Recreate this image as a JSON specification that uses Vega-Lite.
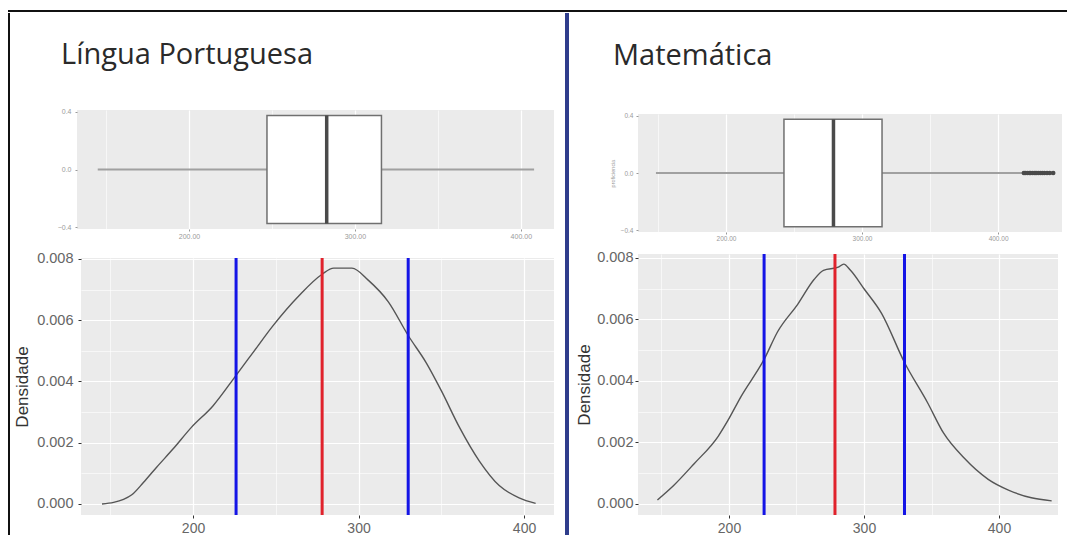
{
  "$schema": "https://vega.github.io/schema/vega-lite/v6.json",
  "padding": {"left": 7, "top": 9, "right": 0, "bottom": 0},
  "background": "white",
  "datasets": {
    "box": [
      {"disc": "LP", "lo": 145, "q1": 247, "med": 283, "q3": 316, "hi": 408},
      {"disc": "MT", "lo": 148.5, "q1": 242.6, "med": 279, "q3": 314.7, "hi": 418}
    ],
    "outliers": [
      {"disc": "MT", "score": 419}, {"disc": "MT", "score": 420}, {"disc": "MT", "score": 421.5},
      {"disc": "MT", "score": 423}, {"disc": "MT", "score": 424}, {"disc": "MT", "score": 425.5},
      {"disc": "MT", "score": 427}, {"disc": "MT", "score": 428}, {"disc": "MT", "score": 429.5},
      {"disc": "MT", "score": 431}, {"disc": "MT", "score": 432.5}, {"disc": "MT", "score": 434},
      {"disc": "MT", "score": 436}, {"disc": "MT", "score": 438}, {"disc": "MT", "score": 440.5}
    ],
    "refs": [
      {"disc": "LP", "score": 226, "kind": "dp"},
      {"disc": "LP", "score": 278, "kind": "media"},
      {"disc": "LP", "score": 330, "kind": "dp"},
      {"disc": "MT", "score": 226, "kind": "dp"},
      {"disc": "MT", "score": 278.5, "kind": "media"},
      {"disc": "MT", "score": 330, "kind": "dp"}
    ],
    "dens": [
      {"disc": "LP", "score": 145, "density": 0.0},
      {"disc": "LP", "score": 152, "density": 0.00005},
      {"disc": "LP", "score": 158, "density": 0.00015},
      {"disc": "LP", "score": 163, "density": 0.0003},
      {"disc": "LP", "score": 170, "density": 0.0007},
      {"disc": "LP", "score": 178, "density": 0.0012},
      {"disc": "LP", "score": 188, "density": 0.0018},
      {"disc": "LP", "score": 199, "density": 0.0025},
      {"disc": "LP", "score": 212, "density": 0.0032},
      {"disc": "LP", "score": 226, "density": 0.0042},
      {"disc": "LP", "score": 237, "density": 0.005},
      {"disc": "LP", "score": 248, "density": 0.0058},
      {"disc": "LP", "score": 264, "density": 0.0068},
      {"disc": "LP", "score": 278, "density": 0.0075},
      {"disc": "LP", "score": 285, "density": 0.0077},
      {"disc": "LP", "score": 296, "density": 0.0077},
      {"disc": "LP", "score": 306, "density": 0.0073},
      {"disc": "LP", "score": 318, "density": 0.0066},
      {"disc": "LP", "score": 330, "density": 0.0055},
      {"disc": "LP", "score": 341, "density": 0.0046},
      {"disc": "LP", "score": 350, "density": 0.0037},
      {"disc": "LP", "score": 361, "density": 0.0025},
      {"disc": "LP", "score": 373, "density": 0.0014},
      {"disc": "LP", "score": 385, "density": 0.0006},
      {"disc": "LP", "score": 397, "density": 0.0002},
      {"disc": "LP", "score": 407, "density": 0.00002},
      {"disc": "MT", "score": 147, "density": 0.00013},
      {"disc": "MT", "score": 159, "density": 0.0006},
      {"disc": "MT", "score": 174, "density": 0.0013},
      {"disc": "MT", "score": 192, "density": 0.0022},
      {"disc": "MT", "score": 199, "density": 0.0027},
      {"disc": "MT", "score": 209, "density": 0.0035},
      {"disc": "MT", "score": 226, "density": 0.0047},
      {"disc": "MT", "score": 236, "density": 0.0056},
      {"disc": "MT", "score": 251, "density": 0.0065},
      {"disc": "MT", "score": 263, "density": 0.0073},
      {"disc": "MT", "score": 270, "density": 0.0076},
      {"disc": "MT", "score": 281, "density": 0.0077},
      {"disc": "MT", "score": 285, "density": 0.0078},
      {"disc": "MT", "score": 290, "density": 0.0076},
      {"disc": "MT", "score": 300, "density": 0.007},
      {"disc": "MT", "score": 313, "density": 0.0062},
      {"disc": "MT", "score": 330, "density": 0.0046},
      {"disc": "MT", "score": 347, "density": 0.0033},
      {"disc": "MT", "score": 359, "density": 0.0023},
      {"disc": "MT", "score": 374, "density": 0.0015},
      {"disc": "MT", "score": 392, "density": 0.0008},
      {"disc": "MT", "score": 407, "density": 0.00045},
      {"disc": "MT", "score": 424, "density": 0.0002},
      {"disc": "MT", "score": 439, "density": 0.0001}
    ]
  },
  "spacing": 0,
  "vconcat": [
    {
      "width": 1060, "height": 2,
      "data": {"values": [{}]},
      "view": {"fill": "#111111", "stroke": null},
      "mark": {"type": "rule", "opacity": 0},
      "encoding": {}
    },
    {
      "spacing": 10,
      "hconcat": [
        {
          "spacing": 3,
          "hconcat": [
            {
              "width": 2, "height": 524,
              "data": {"values": [{}]},
              "view": {"fill": "#111111", "stroke": null},
              "mark": {"type": "rule", "opacity": 0},
              "encoding": {}
            },
            {
              "bounds": "flush",
              "spacing": 29,
              "vconcat": [
                {
                  "width": 477, "height": 68,
                  "data": {"values": [{}]},
                  "view": {"stroke": null},
                  "mark": {"type": "rule", "opacity": 0},
                  "encoding": {}
                },
                {
                  "width": 477, "height": 119,
                  "title": {"text": "Língua Portuguesa", "anchor": "start", "frame": "group", "font": "Open Sans", "fontSize": 29, "fontWeight": "normal", "color": "#2a2a2a", "dx": -16, "offset": 38},
                  "view": {"fill": "#EBEBEB", "stroke": null},
                  "layer": [
                    {
                      "data": {"name": "box"},
                      "transform": [{"filter": "datum.disc == 'LP'"}],
                      "mark": {"type": "rule", "color": "#a0a0a0", "strokeWidth": 2},
                      "encoding": {
                        "x": {"field": "lo", "type": "quantitative", "scale": {"domain": [132.5, 420], "nice": false, "zero": false},
                          "axis": {"title": null, "values": [150, 200, 250, 300, 350, 400], "labelExpr": "datum.value % 100 == 0 ? format(datum.value, '.2f') : ''", "labelFontSize": 7, "labelColor": "#9a9a9a", "tickSize": 2, "tickColor": "#999999", "labelPadding": 1,
                            "gridWidth": {"condition": {"test": "datum.value % 100 == 0", "value": 1.2}, "value": 0.6},
                            "tickOpacity": {"condition": {"test": "datum.value % 100 == 0", "value": 1}, "value": 0}}},
                        "x2": {"field": "hi"},
                        "y": {"datum": 0, "type": "quantitative", "scale": {"domain": [-0.4125, 0.4125], "nice": false, "zero": false},
                          "axis": {"title": null, "values": [-0.4, -0.3, -0.2, -0.1, 0, 0.1, 0.2, 0.3, 0.4], "labelExpr": "abs(round(datum.value*10)) % 2 == 0 ? format(datum.value, '.1f') : ''", "labelFontSize": 7, "labelColor": "#9a9a9a", "tickSize": 2, "tickColor": "#999999", "labelPadding": 4,
                            "gridWidth": {"condition": {"test": "abs(round(datum.value*10)) % 2 == 0", "value": 1.2}, "value": 0.6},
                            "tickOpacity": {"condition": {"test": "abs(round(datum.value*10)) % 2 == 0", "value": 1}, "value": 0}}}
                      }
                    },
                    {
                      "data": {"name": "box"},
                      "transform": [{"filter": "datum.disc == 'LP'"}],
                      "mark": {"type": "rect", "fill": "#FFFFFF", "stroke": "#707070", "strokeWidth": 1.5},
                      "encoding": {
                        "x": {"field": "q1", "type": "quantitative"},
                        "x2": {"field": "q3"},
                        "y": {"datum": -0.375, "type": "quantitative"},
                        "y2": {"datum": 0.375}
                      }
                    },
                    {
                      "data": {"name": "box"},
                      "transform": [{"filter": "datum.disc == 'LP'"}],
                      "mark": {"type": "rule", "color": "#4a4a4a", "strokeWidth": 3.5},
                      "encoding": {
                        "x": {"field": "med", "type": "quantitative"},
                        "y": {"datum": -0.375, "type": "quantitative"},
                        "y2": {"datum": 0.375}
                      }
                    }
                  ]
                },
                {
                  "bounds": "flush",
                  "spacing": 3,
                  "hconcat": [
                    {
                      "width": 1, "height": 257,
                      "data": {"values": [{}]},
                      "view": {"stroke": null},
                      "mark": {"type": "rule", "opacity": 0},
                      "encoding": {}
                    },
                    {
                      "width": 473, "height": 257,
                      "view": {"fill": "#EBEBEB", "stroke": null},
                      "layer": [
                        {
                          "data": {"name": "dens"},
                          "transform": [{"filter": "datum.disc == 'LP'"}],
                          "mark": {"type": "line", "color": "#555555", "strokeWidth": 1.4, "interpolate": "monotone"},
                          "encoding": {
                            "x": {"field": "score", "type": "quantitative", "scale": {"domain": [132.3, 418.1], "nice": false, "zero": false},
                              "axis": {"title": null, "values": [150, 200, 250, 300, 350, 400], "labelExpr": "datum.value % 100 == 0 ? datum.label : ''", "format": "d", "labelFontSize": 14, "labelPadding": 3, "tickSize": 3,
                                "gridWidth": {"condition": {"test": "datum.value % 100 == 0", "value": 1.2}, "value": 0.6},
                                "tickOpacity": {"condition": {"test": "datum.value % 100 == 0", "value": 1}, "value": 0}}},
                            "y": {"field": "density", "type": "quantitative", "scale": {"domain": [-0.00036, 0.00803], "nice": false, "zero": false},
                              "axis": {"title": "Densidade", "values": [0, 0.001, 0.002, 0.003, 0.004, 0.005, 0.006, 0.007, 0.008], "format": ".3f", "labelExpr": "round(datum.value*1000) % 2 == 0 ? datum.label : ''", "labelFontSize": 14.5, "labelPadding": 5, "tickSize": 3, "titleFontSize": 17, "titleColor": "#333333", "titleFontWeight": "normal", "titlePadding": 5,
                                "gridWidth": {"condition": {"test": "round(datum.value*1000) % 2 == 0", "value": 1.2}, "value": 0.6},
                                "tickOpacity": {"condition": {"test": "round(datum.value*1000) % 2 == 0", "value": 1}, "value": 0}}}
                          }
                        },
                        {
                          "data": {"name": "refs"},
                          "transform": [{"filter": "datum.disc == 'LP'"}],
                          "mark": {"type": "rule", "strokeWidth": 3},
                          "encoding": {
                            "x": {"field": "score", "type": "quantitative"},
                            "color": {"field": "kind", "type": "nominal", "scale": {"domain": ["media", "dp"], "range": ["#E0222C", "#1414E6"]}, "legend": null}
                          }
                        }
                      ]
                    }
                  ]
                }
              ]
            }
          ]
        },
        {
          "spacing": 6,
          "hconcat": [
            {
              "width": 4, "height": 524,
              "data": {"values": [{}]},
              "view": {"fill": "#2F3D8C", "stroke": null},
              "mark": {"type": "rule", "opacity": 0},
              "encoding": {}
            },
            {
              "bounds": "flush",
              "spacing": 22,
              "vconcat": [
                {
                  "width": 424, "height": 79,
                  "data": {"values": [{}]},
                  "view": {"stroke": null},
                  "mark": {"type": "rule", "opacity": 0},
                  "encoding": {}
                },
                {
                  "width": 424, "height": 118,
                  "title": {"text": "Matemática", "anchor": "start", "frame": "group", "font": "Open Sans", "fontSize": 29, "fontWeight": "normal", "color": "#2a2a2a", "dx": -25, "offset": 42},
                  "view": {"fill": "#EBEBEB", "stroke": null},
                  "layer": [
                    {
                      "data": {"name": "box"},
                      "transform": [{"filter": "datum.disc == 'MT'"}],
                      "mark": {"type": "rule", "color": "#a0a0a0", "strokeWidth": 2},
                      "encoding": {
                        "x": {"field": "lo", "type": "quantitative", "scale": {"domain": [135.3, 447], "nice": false, "zero": false},
                          "axis": {"title": null, "values": [150, 200, 250, 300, 350, 400], "labelExpr": "datum.value % 100 == 0 ? format(datum.value, '.2f') : ''", "labelFontSize": 6.5, "labelColor": "#9a9a9a", "tickSize": 2, "tickColor": "#999999", "labelPadding": 1,
                            "gridWidth": {"condition": {"test": "datum.value % 100 == 0", "value": 1.2}, "value": 0.6},
                            "tickOpacity": {"condition": {"test": "datum.value % 100 == 0", "value": 1}, "value": 0}}},
                        "x2": {"field": "hi"},
                        "y": {"datum": 0, "type": "quantitative", "scale": {"domain": [-0.4125, 0.4125], "nice": false, "zero": false},
                          "axis": {"title": "proficiencia", "titleFontSize": 5.5, "titleColor": "#9a9a9a", "titleFontWeight": "normal", "titlePadding": 5, "values": [-0.4, -0.3, -0.2, -0.1, 0, 0.1, 0.2, 0.3, 0.4], "labelExpr": "abs(round(datum.value*10)) % 2 == 0 ? format(datum.value, '.1f') : ''", "labelFontSize": 6.5, "labelColor": "#9a9a9a", "tickSize": 2, "tickColor": "#999999", "labelPadding": 3,
                            "gridWidth": {"condition": {"test": "abs(round(datum.value*10)) % 2 == 0", "value": 1.2}, "value": 0.6},
                            "tickOpacity": {"condition": {"test": "abs(round(datum.value*10)) % 2 == 0", "value": 1}, "value": 0}}}
                      }
                    },
                    {
                      "data": {"name": "box"},
                      "transform": [{"filter": "datum.disc == 'MT'"}],
                      "mark": {"type": "rect", "fill": "#FFFFFF", "stroke": "#707070", "strokeWidth": 1.5},
                      "encoding": {
                        "x": {"field": "q1", "type": "quantitative"},
                        "x2": {"field": "q3"},
                        "y": {"datum": -0.375, "type": "quantitative"},
                        "y2": {"datum": 0.375}
                      }
                    },
                    {
                      "data": {"name": "box"},
                      "transform": [{"filter": "datum.disc == 'MT'"}],
                      "mark": {"type": "rule", "color": "#4a4a4a", "strokeWidth": 3.5},
                      "encoding": {
                        "x": {"field": "med", "type": "quantitative"},
                        "y": {"datum": -0.375, "type": "quantitative"},
                        "y2": {"datum": 0.375}
                      }
                    },
                    {
                      "data": {"name": "outliers"},
                      "mark": {"type": "circle", "size": 22, "color": "#4a4a4a", "opacity": 1},
                      "encoding": {
                        "x": {"field": "score", "type": "quantitative"},
                        "y": {"datum": 0, "type": "quantitative"}
                      }
                    }
                  ]
                },
                {
                  "width": 420, "height": 261,
                  "view": {"fill": "#EBEBEB", "stroke": null},
                  "layer": [
                    {
                      "data": {"name": "dens"},
                      "transform": [{"filter": "datum.disc == 'MT'"}],
                      "mark": {"type": "line", "color": "#555555", "strokeWidth": 1.4, "interpolate": "monotone"},
                      "encoding": {
                        "x": {"field": "score", "type": "quantitative", "scale": {"domain": [132.6, 443.7], "nice": false, "zero": false},
                          "axis": {"title": null, "values": [150, 200, 250, 300, 350, 400], "labelExpr": "datum.value % 100 == 0 ? datum.label : ''", "format": "d", "labelFontSize": 14, "labelPadding": 3, "tickSize": 3,
                            "gridWidth": {"condition": {"test": "datum.value % 100 == 0", "value": 1.2}, "value": 0.6},
                            "tickOpacity": {"condition": {"test": "datum.value % 100 == 0", "value": 1}, "value": 0}}},
                        "y": {"field": "density", "type": "quantitative", "scale": {"domain": [-0.00036, 0.00813], "nice": false, "zero": false},
                          "axis": {"title": "Densidade", "values": [0, 0.001, 0.002, 0.003, 0.004, 0.005, 0.006, 0.007, 0.008], "format": ".3f", "labelExpr": "round(datum.value*1000) % 2 == 0 ? datum.label : ''", "labelFontSize": 14.5, "labelPadding": 2, "tickSize": 3, "titleFontSize": 17, "titleColor": "#333333", "titleFontWeight": "normal", "titlePadding": 3,
                            "gridWidth": {"condition": {"test": "round(datum.value*1000) % 2 == 0", "value": 1.2}, "value": 0.6},
                            "tickOpacity": {"condition": {"test": "round(datum.value*1000) % 2 == 0", "value": 1}, "value": 0}}}
                      }
                    },
                    {
                      "data": {"name": "refs"},
                      "transform": [{"filter": "datum.disc == 'MT'"}],
                      "mark": {"type": "rule", "strokeWidth": 3},
                      "encoding": {
                        "x": {"field": "score", "type": "quantitative"},
                        "color": {"field": "kind", "type": "nominal", "scale": {"domain": ["media", "dp"], "range": ["#E0222C", "#1414E6"]}, "legend": null}
                      }
                    }
                  ]
                }
              ]
            }
          ]
        }
      ]
    }
  ],
  "config": {
    "view": {"stroke": null},
    "font": "Liberation Sans",
    "axis": {
      "domain": false,
      "gridColor": "#FFFFFF",
      "tickColor": "#333333",
      "labelColor": "#666666",
      "labelFont": "Liberation Sans",
      "titleFont": "Liberation Sans"
    }
  }
}
